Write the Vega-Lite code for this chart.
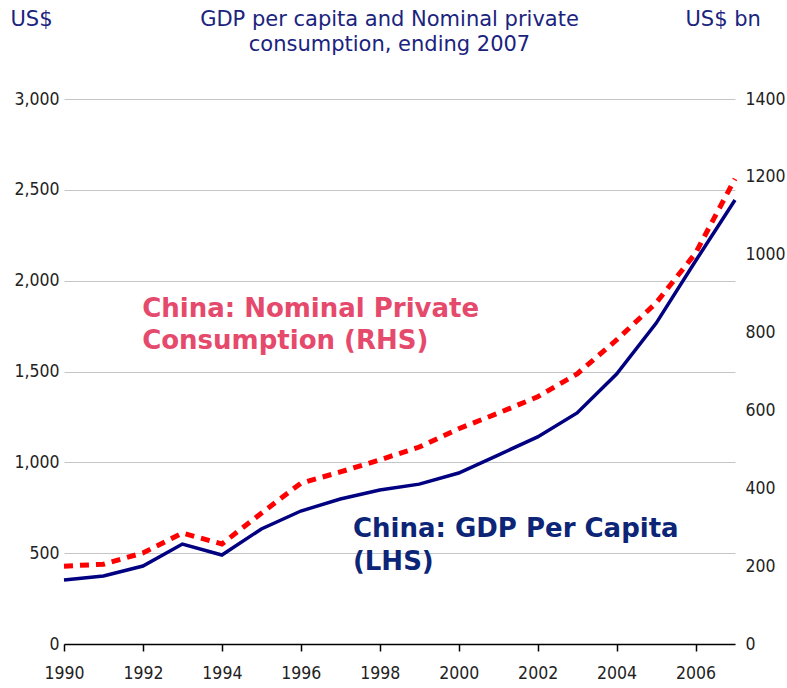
{
  "$schema": "https://vega.github.io/schema/vega-lite/v6.json",
  "width": 671,
  "height": 545,
  "autosize": "none",
  "padding": {"left": 64, "top": 99, "right": 52, "bottom": 44},
  "background": "white",
  "title": {
    "text": ["GDP per capita and Nominal private", "consumption, ending 2007"],
    "anchor": "middle",
    "dx": -10,
    "offset": -47,
    "fontSize": 21,
    "lineHeight": 25,
    "font": "DejaVu Sans",
    "fontWeight": "normal",
    "color": "#1a237e"
  },
  "config": {
    "view": {"stroke": null},
    "axis": {"labelFont": "DejaVu Sans Condensed", "labelFontSize": 17.5, "labelColor": "#222", "titleFont": "DejaVu Sans", "titleFontWeight": "normal", "titleFontSize": 21, "titleColor": "#1a237e"}
  },
  "datasets": {
    "series": [
      {"year": 1990, "gdp": 352, "cons": 200},
      {"year": 1991, "gdp": 374, "cons": 205},
      {"year": 1992, "gdp": 429, "cons": 234},
      {"year": 1993, "gdp": 550, "cons": 285},
      {"year": 1994, "gdp": 490, "cons": 257},
      {"year": 1995, "gdp": 633, "cons": 336},
      {"year": 1996, "gdp": 732, "cons": 413},
      {"year": 1997, "gdp": 798, "cons": 442},
      {"year": 1998, "gdp": 848, "cons": 473},
      {"year": 1999, "gdp": 880, "cons": 506},
      {"year": 2000, "gdp": 941, "cons": 553},
      {"year": 2001, "gdp": 1040, "cons": 593},
      {"year": 2002, "gdp": 1140, "cons": 635},
      {"year": 2003, "gdp": 1272, "cons": 694},
      {"year": 2004, "gdp": 1486, "cons": 781},
      {"year": 2005, "gdp": 1765, "cons": 876},
      {"year": 2006, "gdp": 2108, "cons": 1004},
      {"year": 2007, "gdp": 2444, "cons": 1195}
    ],
    "labels": [
      {"x": 1991.98, "y": 1800, "t": "China: Nominal Private", "s": "cons"},
      {"x": 1991.98, "y": 1624, "t": "Consumption (RHS)", "s": "cons"},
      {"x": 1997.32, "y": 589, "t": "China: GDP Per Capita", "s": "gdp"},
      {"x": 1997.32, "y": 407, "t": "(LHS)", "s": "gdp"}
    ]
  },
  "layer": [
    {
      "data": {"name": "series"},
      "mark": {"type": "line", "color": "#000080", "strokeWidth": 3.5},
      "encoding": {
        "x": {
          "field": "year", "type": "quantitative",
          "scale": {"domain": [1990, 2007], "nice": false, "zero": false},
          "axis": {"values": [1990,1991,1992,1993,1994,1995,1996,1997,1998,1999,2000,2001,2002,2003,2004,2005,2006,2007], "labelExpr": "datum.value % 2 == 0 && datum.value < 2007 ? datum.value : ''", "format": "d", "title": null, "grid": false, "domainColor": "#000", "domainWidth": 1.5, "tickColor": "#000", "tickSize": 7, "tickWidth": 1.5, "labelPadding": 13, "labelFlush": false}
        },
        "y": {
          "field": "gdp", "type": "quantitative",
          "scale": {"domain": [0, 3000], "nice": false},
          "axis": {"values": [0, 500, 1000, 1500, 2000, 2500, 3000], "format": ",d", "title": "US$", "titleAngle": 0, "titleX": -54, "titleY": -91, "titleAlign": "left", "titleBaseline": "top", "grid": true, "gridColor": "#c6c6c6", "gridWidth": 1.2, "domain": false, "ticks": false, "labelPadding": 5}
        }
      }
    },
    {
      "data": {"name": "series"},
      "mark": {"type": "line", "color": "#ff0000", "strokeWidth": 5, "strokeDash": [9, 7]},
      "encoding": {
        "x": {"field": "year", "type": "quantitative"},
        "y": {
          "field": "cons", "type": "quantitative",
          "scale": {"domain": [0, 1400], "nice": false},
          "axis": {"orient": "right", "values": [0, 200, 400, 600, 800, 1000, 1200, 1400], "format": "d", "title": "US$ bn", "titleAngle": 0, "titleX": -50, "titleY": -91, "titleAlign": "left", "titleBaseline": "top", "grid": false, "domain": false, "ticks": false, "labelPadding": 10}
        }
      }
    },
    {
      "data": {"name": "labels"},
      "mark": {"type": "text", "align": "left", "baseline": "alphabetic", "font": "DejaVu Sans", "fontWeight": "bold", "fontSize": 26},
      "encoding": {
        "x": {"field": "x", "type": "quantitative"},
        "y": {"field": "y", "type": "quantitative", "scale": {"domain": [0, 3000], "nice": false}, "axis": null},
        "text": {"field": "t"},
        "color": {"field": "s", "type": "nominal", "scale": {"domain": ["cons", "gdp"], "range": ["#e54a6c", "#0c2577"]}, "legend": null}
      }
    }
  ],
  "resolve": {"scale": {"y": "independent"}}
}
